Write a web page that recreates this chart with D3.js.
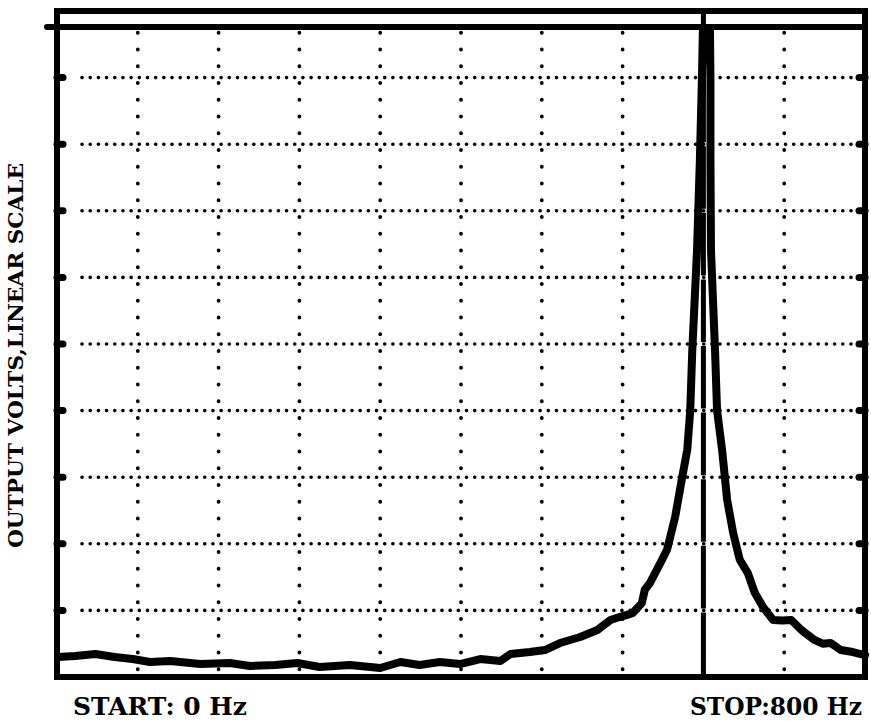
<!DOCTYPE html>
<html>
<head>
<meta charset="utf-8">
<script src="https://cdn.jsdelivr.net/npm/d3@7"></script>
<style>
  html, body { margin: 0; padding: 0; background: #fff; }
  svg { display: block; }
</style>
</head>
<body>
<svg id="chart" width="871" height="722"></svg>
<script>
// ---- data ----
const freqHz = [1, 18, 38, 57, 75, 92, 112, 142, 171, 191, 216, 238, 260, 290, 320, 340, 359, 379, 399, 419, 439, 449, 468, 483, 498, 518, 535, 548, 557, 570, 579, 582, 587, 599, 604, 612, 619, 624, 627, 629, 633.7, 636.5, 638.5, 639.5, 646.5, 647, 647, 647.5, 651.5, 653.5, 658.5, 663.5, 669.5, 676, 684, 691, 699, 709, 718, 727, 737, 750, 758, 766, 776, 788, 800];
const outputDiv = [0.30, 0.315, 0.345, 0.30, 0.27, 0.225, 0.24, 0.195, 0.21, 0.165, 0.18, 0.21, 0.15, 0.18, 0.135, 0.225, 0.18, 0.225, 0.195, 0.27, 0.24, 0.345, 0.375, 0.405, 0.51, 0.60, 0.705, 0.855, 0.90, 0.96, 1.11, 1.31, 1.41, 1.76, 1.91, 2.40, 3.00, 3.41, 4.01, 4.91, 6.41, 7.76, 8.96, 9.72, 9.72, 8.96, 7.76, 6.41, 4.91, 4.01, 3.41, 2.66, 2.16, 1.76, 1.56, 1.26, 1.05, 0.856, 0.85, 0.856, 0.706, 0.556, 0.50, 0.511, 0.405, 0.375, 0.33];
const vGridHz = [80, 160, 240, 320, 400, 480, 560, 640, 720];
const hGridDiv = [1, 2, 3, 4, 5, 6, 7, 8, 9];
const markerHz = 640;
const upperTraceDiv = 9.76;
const startLabel = "START: 0 Hz";
const stopLabel = "STOP:800 Hz";
const yLabel = "OUTPUT VOLTS,LINEAR SCALE";

// ---- layout ----
const svg = d3.select("#chart");
const pL = 57, pR = 865, pT = 11, pB = 677;
const x = d3.scaleLinear().domain([0, 800]).range([pL, pR]);
const y = d3.scaleLinear().domain([0, 10]).range([pB, pT]);

const g = svg.append("g");

// dotted horizontal grid
const hStep = (x(80) - x(0)) / 10;
g.selectAll("line.hgrid").data(hGridDiv).enter().append("line")
  .attr("class", "hgrid")
  .attr("x1", pL + 25).attr("x2", pR - 4)
  .attr("y1", d => y(d)).attr("y2", d => y(d))
  .attr("stroke", "#000").attr("stroke-width", 3.6)
  .attr("stroke-linecap", "round")
  .attr("stroke-dasharray", `0.1 ${hStep}`);

// dotted vertical grid
const vStep = (y(0) - y(1)) / 4;
g.selectAll("line.vgrid").data(vGridHz).enter().append("line")
  .attr("class", "vgrid")
  .attr("x1", d => x(d)).attr("x2", d => x(d))
  .attr("y1", y(10) + vStep * 1.3).attr("y2", y(0) - 6)
  .attr("stroke", "#000").attr("stroke-width", 3.8)
  .attr("stroke-linecap", "round")
  .attr("stroke-dasharray", `0.1 ${vStep}`);

// tick blobs on left and right frame
g.selectAll("line.ltick").data(hGridDiv).enter().append("line")
  .attr("x1", pL).attr("x2", pL + 6)
  .attr("y1", d => y(d)).attr("y2", d => y(d))
  .attr("stroke", "#000").attr("stroke-width", 7).attr("stroke-linecap", "round");
g.selectAll("line.rtick").data(hGridDiv).enter().append("line")
  .attr("x1", pR - 6).attr("x2", pR)
  .attr("y1", d => y(d)).attr("y2", d => y(d))
  .attr("stroke", "#000").attr("stroke-width", 7).attr("stroke-linecap", "round");

// marker line (with small gaps at graticule lines)
const divPx = y(0) - y(1);
g.append("line")
  .attr("x1", x(markerHz)).attr("x2", x(markerHz))
  .attr("y1", y(10)).attr("y2", y(0))
  .attr("stroke", "#000").attr("stroke-width", 5)
  .attr("stroke-dasharray", `${divPx - 4} 4`)
  .attr("stroke-dashoffset", -2);

// frame
g.append("rect")
  .attr("x", pL).attr("y", pT)
  .attr("width", pR - pL).attr("height", pB - pT)
  .attr("fill", "none").attr("stroke", "#000").attr("stroke-width", 6);

// second upper line
g.append("line")
  .attr("x1", pL - 10).attr("x2", pR)
  .attr("y1", y(upperTraceDiv)).attr("y2", y(upperTraceDiv))
  .attr("stroke", "#000").attr("stroke-width", 6).attr("stroke-linecap", "round");

// spectrum trace
const pts = freqHz.map((f, i) => [f, outputDiv[i]]);
const line = d3.line().x(d => x(d[0])).y(d => y(d[1])).curve(d3.curveLinear);
g.append("path")
  .datum(pts)
  .attr("d", line)
  .attr("fill", "none")
  .attr("stroke", "#000")
  .attr("stroke-width", 8)
  .attr("stroke-linejoin", "round")
  .attr("stroke-linecap", "round");

// labels
const font = "'DejaVu Serif', 'Liberation Serif', serif";
svg.append("text")
  .attr("x", 73).attr("y", 715)
  .attr("font-family", font).attr("font-weight", "bold").attr("font-size", 24)
  .attr("textLength", 174).attr("lengthAdjust", "spacingAndGlyphs")
  .attr("fill", "#000")
  .text(startLabel);
svg.append("text")
  .attr("x", 690).attr("y", 715)
  .attr("font-family", font).attr("font-weight", "bold").attr("font-size", 24)
  .attr("textLength", 172).attr("lengthAdjust", "spacingAndGlyphs")
  .attr("fill", "#000")
  .text(stopLabel);
svg.append("text")
  .attr("transform", "translate(23,548) rotate(-90)")
  .attr("font-family", font).attr("font-weight", "bold").attr("font-size", 21)
  .attr("textLength", 385).attr("lengthAdjust", "spacingAndGlyphs")
  .attr("fill", "#000")
  .text(yLabel);
</script>
</body>
</html>
